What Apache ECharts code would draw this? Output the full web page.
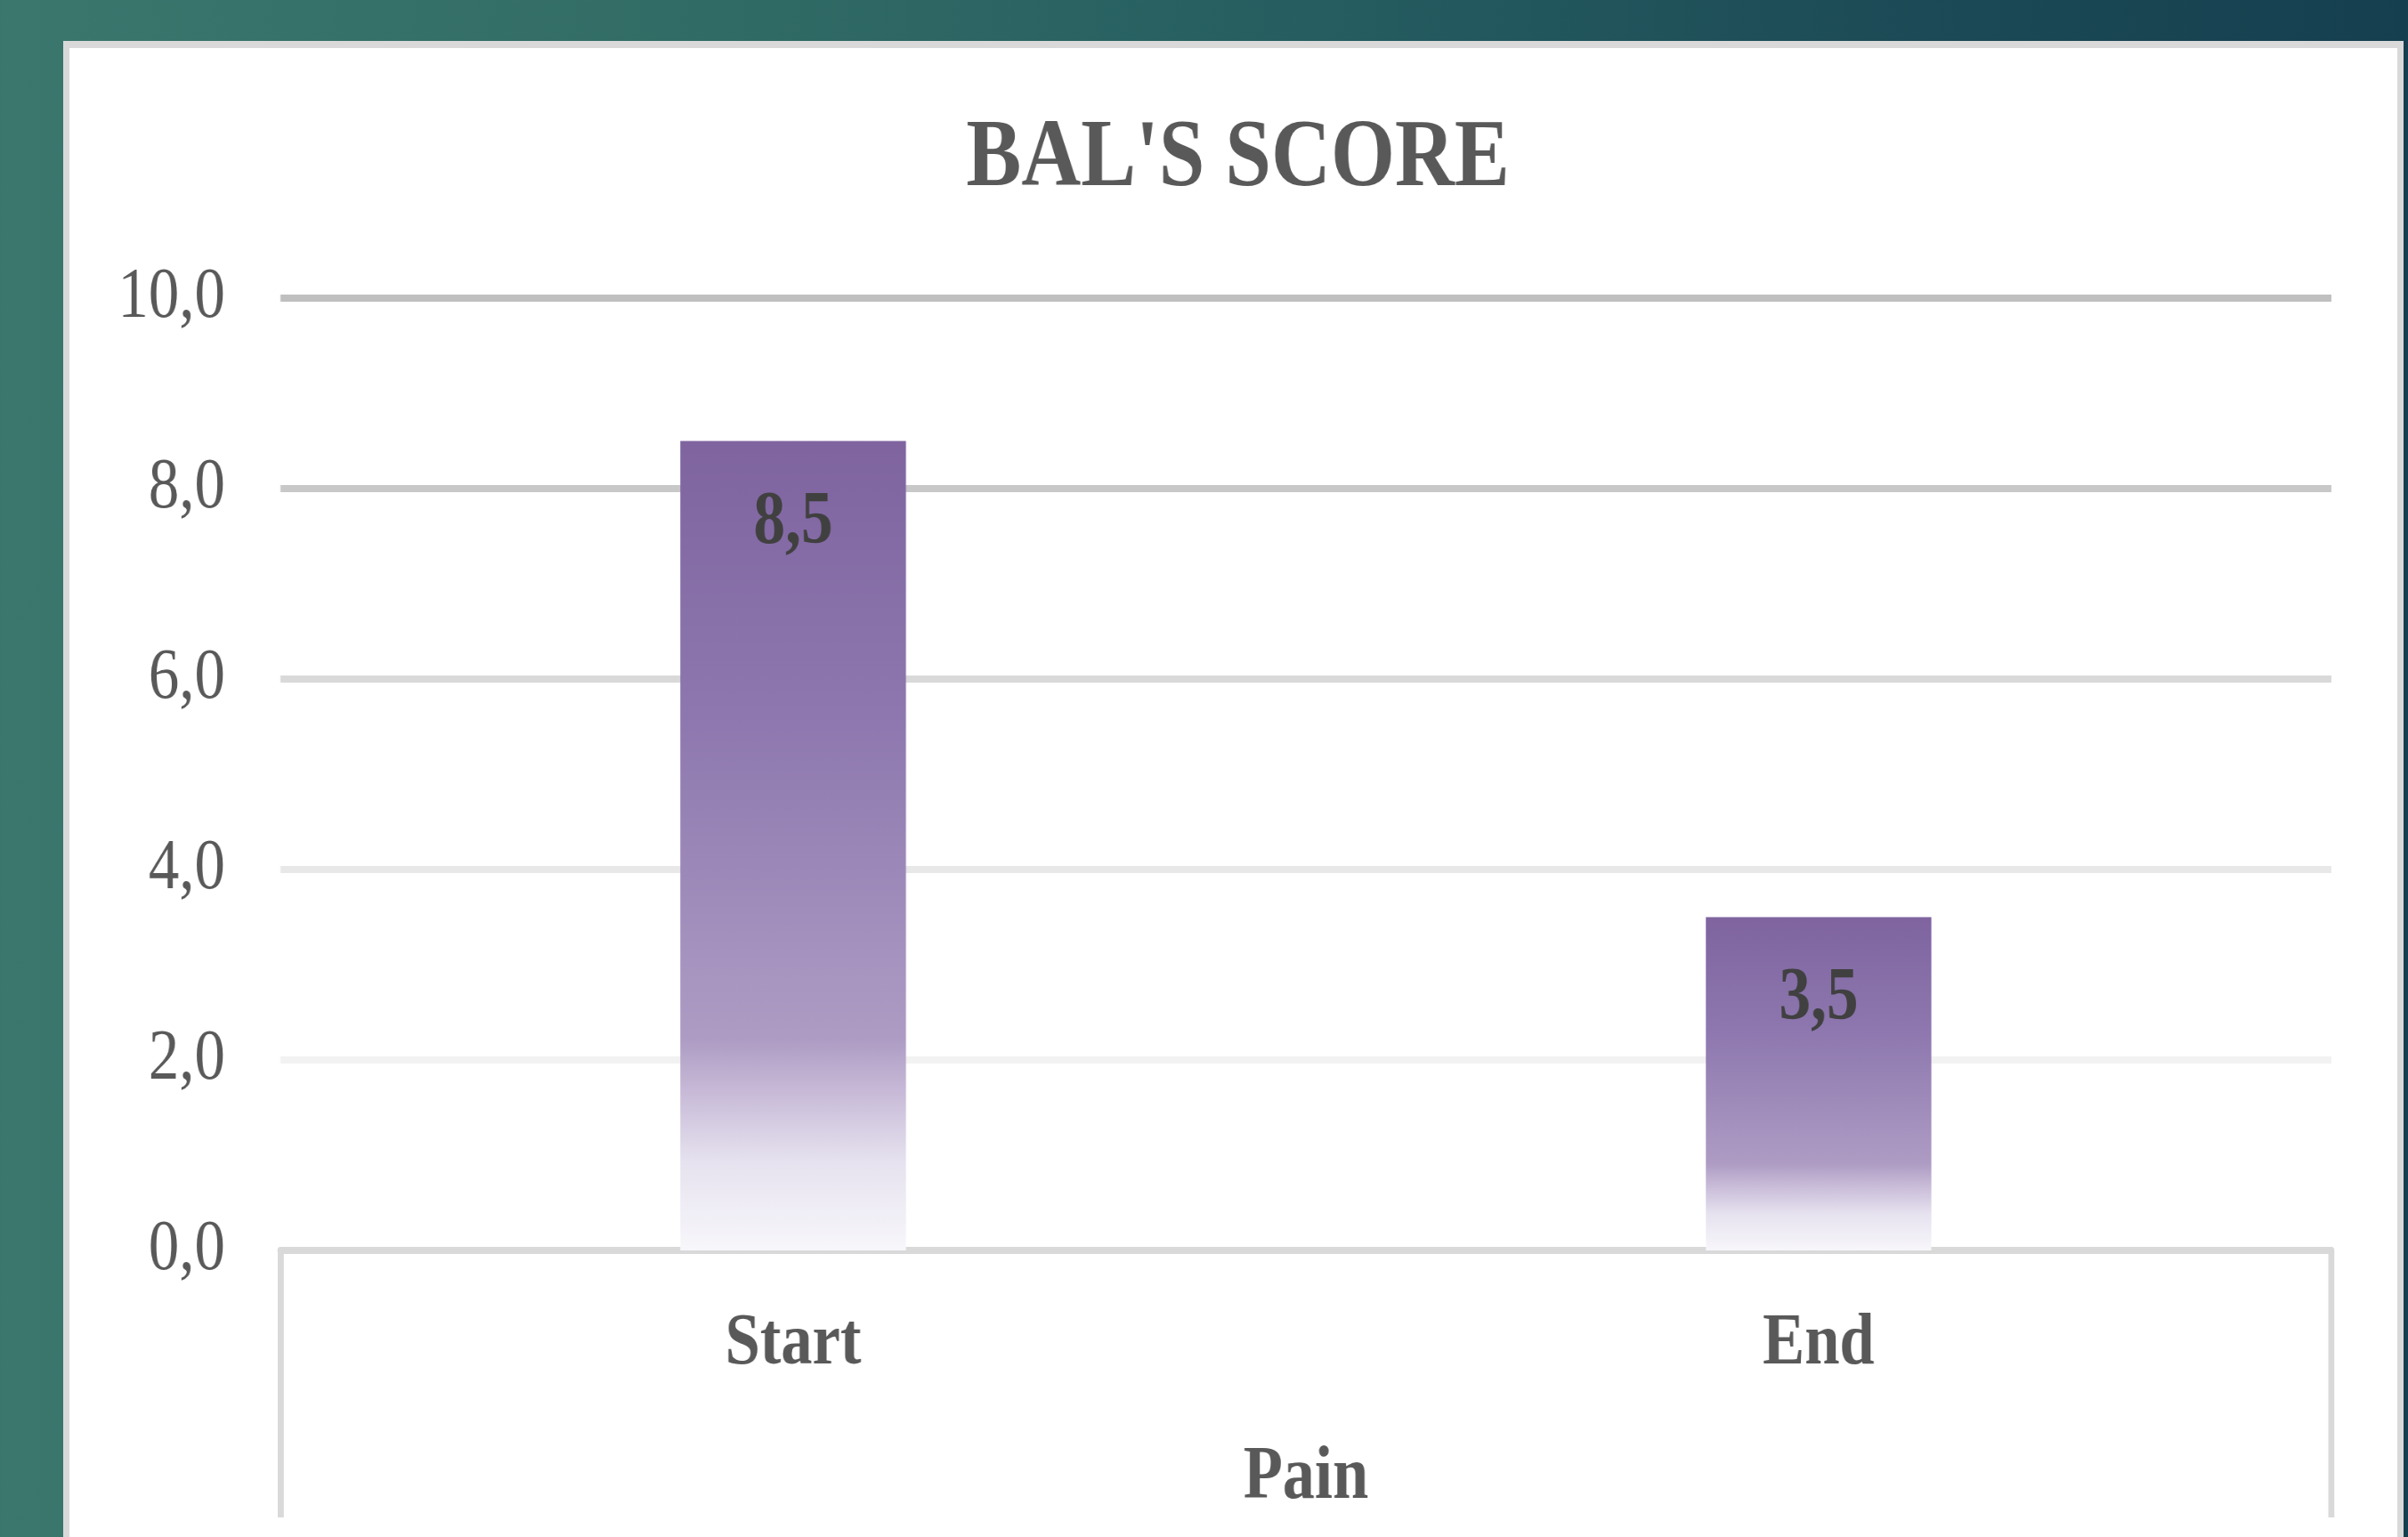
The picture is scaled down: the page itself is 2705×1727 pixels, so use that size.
<!DOCTYPE html>
<html lang="en" style="height: 100%">
  <head>
    <meta charset="utf-8" />
    <style>
      body {
        margin: 0;
        height: 100%;
        overflow: hidden;
        background: linear-gradient(
          to right,
          #3b776d 0%,
          #316b65 30%,
          #255d60 55%,
          #1c4a56 80%,
          #153f4f 100%
        );
      }
      #panel {
        position: absolute;
        left: 71px;
        top: 46px;
        width: 2629px;
        height: 1800px;
        box-sizing: border-box;
        background: #ffffff;
        border: 7px solid #d9d9d9;
        border-top-width: 8px;
      }
      /* the source picture is squeezed sideways, so the chart is drawn wider and scaled back */
      #container {
        position: absolute;
        left: 0;
        top: 0;
        width: 3182px;
        height: 1727px;
        transform: scaleX(0.85);
        transform-origin: 0 0;
      }
    </style>
  </head>
  <body>
    <div id="panel"></div>
    <div id="container"></div>

    <script
      type="text/javascript"
      src="https://cdn.jsdelivr.net/npm/echarts@6.0.0/dist/echarts.min.js"
    ></script>
    <script type="text/javascript">
      const titleText = "BAL'S SCORE";
      const groupName = "Pain";
      const categories = ["Start", "End"];
      const painScores = [8.5, 3.5];
      const yTicks = [0, 2, 4, 6, 8, 10];

      const serif = "Liberation Serif";
      const textGray = "#595959";

      var dom = document.getElementById("container");
      var myChart = echarts.init(dom, null, {
        renderer: "canvas",
        useDirtyRect: false,
      });

      function comma(v) {
        return Number(v).toFixed(1).replace(".", ",");
      }

      var option = {
        animation: false,
        title: {
          text: titleText,
          left: 1631,
          textAlign: "center",
          top: 120,
          textStyle: {
            fontFamily: serif,
            fontSize: 109,
            fontWeight: "bold",
            color: textGray,
          },
        },
        grid: {
          left: 370.6,
          right: 101,
          top: 335,
          bottom: 322,
          containLabel: false,
        },
        xAxis: [
          {
            type: "category",
            data: categories,
            position: "bottom",
            axisLine: { show: true, lineStyle: { color: "#d9d9d9", width: 8 } },
            axisTick: { show: false },
            axisLabel: {
              margin: 64,
              fontFamily: serif,
              fontSize: 83,
              fontWeight: "bold",
              color: textGray,
            },
            name: groupName,
            nameLocation: "middle",
            nameGap: 214,
            nameTextStyle: {
              fontFamily: serif,
              fontSize: 85,
              fontWeight: "bold",
              color: textGray,
            },
          },
          {
            // outer frame of the category table under the axis
            type: "value",
            position: "bottom",
            min: 0,
            max: 1,
            interval: 1,
            axisLine: { show: false },
            axisLabel: { show: false },
            splitLine: { show: false },
            axisTick: {
              show: true,
              length: 300,
              lineStyle: { color: "#d9d9d9", width: 8 },
            },
          },
        ],
        yAxis: {
          type: "value",
          min: yTicks[0],
          max: yTicks[yTicks.length - 1],
          interval: yTicks[1] - yTicks[0],
          axisLine: { show: false },
          axisTick: { show: false },
          axisLabel: {
            margin: 73,
            padding: [10, 0, 0, 0],
            fontFamily: serif,
            fontSize: 81,
            color: textGray,
            formatter: comma,
          },
          splitLine: {
            show: true,
            lineStyle: {
              width: 8,
              color: ["#d9d9d9", "#f2f2f2", "#e8e8e8", "#d9d9d9", "#c8c8c8", "#bfbfbf"],
            },
          },
        },
        series: [
          {
            type: "bar",
            xAxisIndex: 0,
            yAxisIndex: 0,
            data: painScores,
            barWidth: "22%",
            itemStyle: {
              color: new echarts.graphic.LinearGradient(0, 0, 0, 1, [
                { offset: 0, color: "#7f64a0" },
                { offset: 0.35, color: "#8e78af" },
                { offset: 0.74, color: "#ae9cc4" },
                { offset: 0.8, color: "#c6b8d6" },
                { offset: 0.89, color: "#e6e2ef" },
                { offset: 1, color: "#f8f7fb" },
              ]),
            },
            label: {
              show: true,
              position: "insideTop",
              distance: 51,
              fontFamily: serif,
              fontSize: 84,
              fontWeight: "bold",
              color: "#404040",
              formatter: function (p) {
                return comma(p.value);
              },
            },
          },
        ],
      };

      if (option && typeof option === "object") {
        myChart.setOption(option);
      }

      window.addEventListener("resize", myChart.resize);
    </script>
  </body>
</html>
